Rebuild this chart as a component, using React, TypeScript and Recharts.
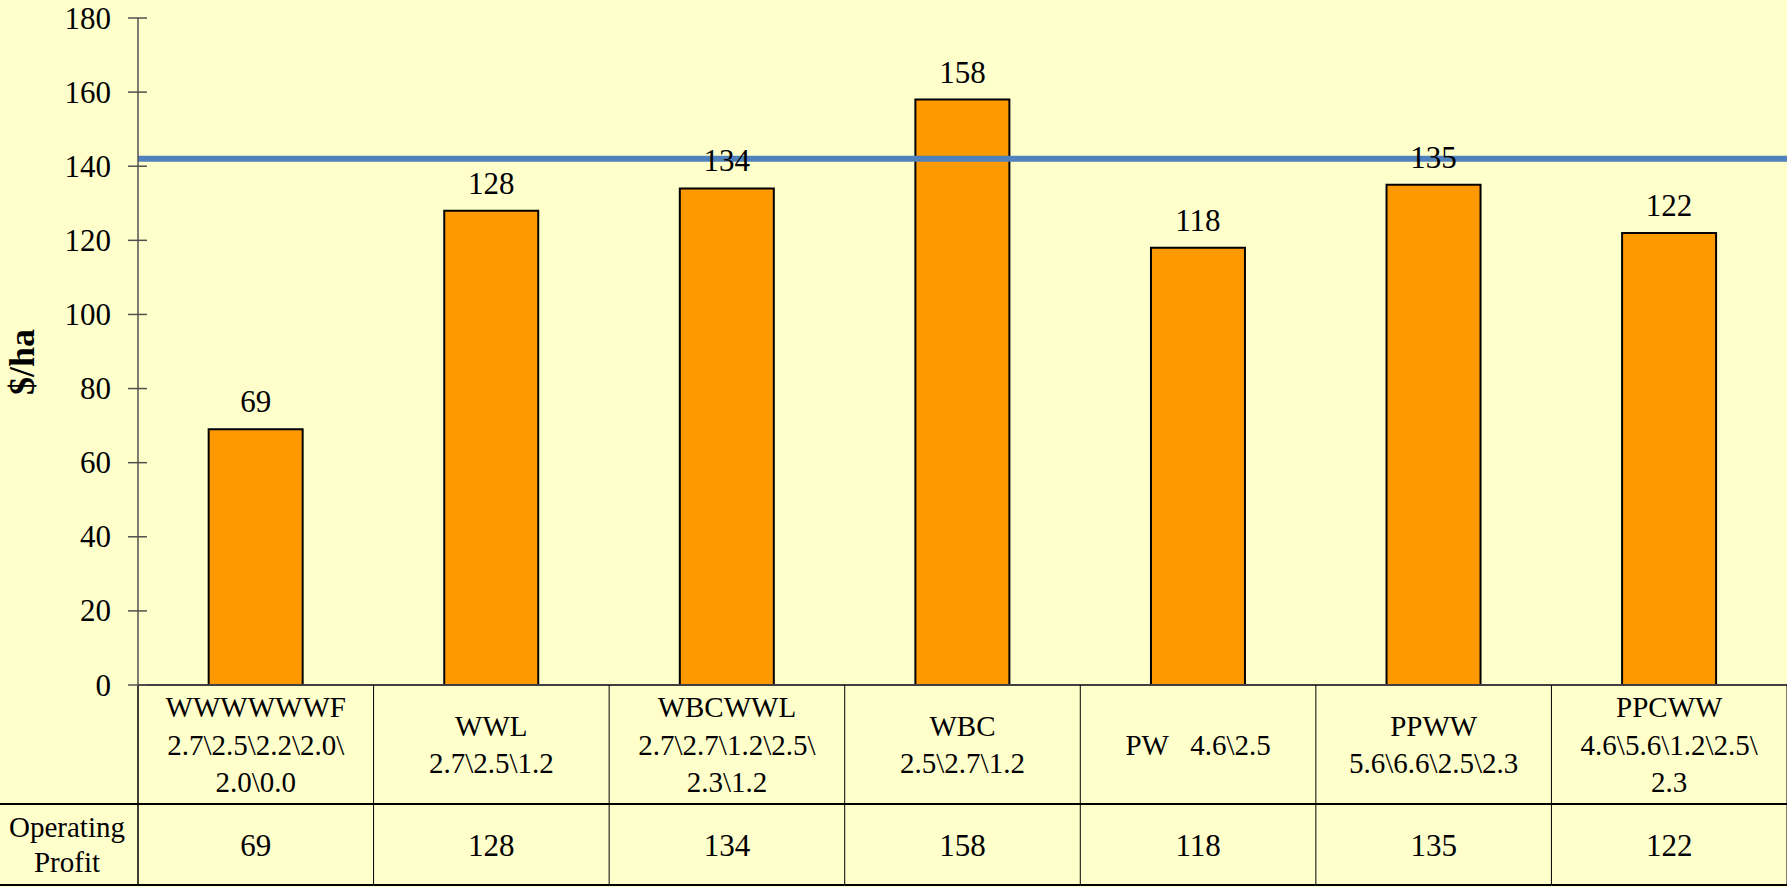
import React from "react";
import {
  ComposedChart,
  Bar,
  XAxis,
  YAxis,
  ReferenceLine,
  LabelList,
} from "recharts";

// rotation codes, with the yields of each crop on the lines below
const rotationLines: string[][] = [
  ["WWWWWWF", "2.7\\2.5\\2.2\\2.0\\", "2.0\\0.0"],
  ["WWL", "2.7\\2.5\\1.2"],
  ["WBCWWL", "2.7\\2.7\\1.2\\2.5\\", "2.3\\1.2"],
  ["WBC", "2.5\\2.7\\1.2"],
  ["PW   4.6\\2.5"],
  ["PPWW", "5.6\\6.6\\2.5\\2.3"],
  ["PPCWW", "4.6\\5.6\\1.2\\2.5\\", "2.3"],
];
const rotations = ["WWWWWWF", "WWL", "WBCWWL", "WBC", "PW", "PPWW", "PPCWW"];
const operatingProfit = [69, 128, 134, 158, 118, 135, 122];
const benchmark = 142;
const yTicks = [0, 20, 40, 60, 80, 100, 120, 140, 160, 180];
const rowLabel = ["Operating", "Profit"];

const data = rotations.map((name, i) => ({
  name,
  profit: operatingProfit[i],
}));

const W = 1787;
const H = 887;
const PLOT_LEFT = 138;
const X_AXIS_H = 202;
const AXIS_Y = H - X_AXIS_H;
const ROW1_BOTTOM = 804;
const TABLE_BOTTOM = 885;
const BAND = (W - PLOT_LEFT) / rotations.length;
const FONT = '"Liberation Serif", "Times New Roman", serif';
const NUM_SIZE = 31;
const CELL_SIZE = 29;

function YTick(props: any) {
  const { y, payload } = props;
  return (
    <g>
      <line x1={PLOT_LEFT - 10} x2={PLOT_LEFT + 9} y1={y} y2={y} stroke="#505050" strokeWidth={1.5} />
      <text x={111} y={y} textAnchor="end" dominantBaseline="central" fontSize={NUM_SIZE} fill="#000" fontFamily={FONT}>
        {payload.value}
      </text>
    </g>
  );
}

function TableTick(props: any) {
  const { x, index } = props;
  const lines = rotationLines[index];
  const left = x - BAND / 2;
  const right = x + BAND / 2;
  const mid1 = (AXIS_Y + ROW1_BOTTOM) / 2;
  const mid2 = (ROW1_BOTTOM + TABLE_BOTTOM) / 2;
  return (
    <g>
      {index === 0 && (
        <g>
          <line x1={left} x2={left} y1={AXIS_Y} y2={TABLE_BOTTOM} stroke="#000" strokeWidth={1.5} />
          <line x1={0} x2={left} y1={ROW1_BOTTOM} y2={ROW1_BOTTOM} stroke="#000" strokeWidth={2} />
          <line x1={0} x2={left} y1={TABLE_BOTTOM} y2={TABLE_BOTTOM} stroke="#000" strokeWidth={2} />
          {rowLabel.map((t, i) => (
            <text key={t} x={left / 2 - 2} y={mid2 + (i - 0.5) * 35} textAnchor="middle" dominantBaseline="central" fontSize={CELL_SIZE} fontFamily={FONT} fill="#000">
              {t}
            </text>
          ))}
        </g>
      )}
      <line x1={right} x2={right} y1={AXIS_Y} y2={TABLE_BOTTOM} stroke="#000" strokeWidth={1} />
      <line x1={left} x2={right} y1={ROW1_BOTTOM} y2={ROW1_BOTTOM} stroke="#000" strokeWidth={2} />
      <line x1={left} x2={right} y1={TABLE_BOTTOM} y2={TABLE_BOTTOM} stroke="#000" strokeWidth={2} />
      {lines.map((t, i) => (
        <text
          key={i}
          x={x}
          y={mid1 + (i - (lines.length - 1) / 2) * 37.5}
          textAnchor="middle"
          dominantBaseline="central"
          fontSize={CELL_SIZE}
          fontFamily={FONT}
          fill="#000"
          style={{ whiteSpace: "pre" }}
        >
          {t}
        </text>
      ))}
      <text x={x} y={mid2 + 1} textAnchor="middle" dominantBaseline="central" fontSize={NUM_SIZE} fontFamily={FONT} fill="#000">
        {operatingProfit[index]}
      </text>
    </g>
  );
}

export default function App() {
  return (
    <div style={{ position: "absolute", left: 0, top: 0, width: W, height: H, background: "#FFFFCC" }}>
      <ComposedChart
        width={W}
        height={H}
        data={data}
        margin={{ top: 18, right: 0, left: 0, bottom: 0 }}
        barCategoryGap="30%"
      >
        <XAxis
          dataKey="name"
          interval={0}
          height={X_AXIS_H}
          tickLine={false}
          tickSize={0}
          axisLine={{ stroke: "#404040", strokeWidth: 2 }}
          tick={<TableTick />}
        />
        <YAxis
          type="number"
          domain={[0, 180]}
          ticks={yTicks}
          width={PLOT_LEFT}
          tickLine={false}
          axisLine={{ stroke: "#505050", strokeWidth: 1.5 }}
          tick={<YTick />}
          interval={0}
        />
        <Bar dataKey="profit" fill="#FF9900" stroke="#000" strokeWidth={2} isAnimationActive={false}>
          <LabelList dataKey="profit" position="top" offset={17} fontSize={NUM_SIZE} fill="#000" fontFamily={FONT} />
        </Bar>
        <ReferenceLine y={benchmark} stroke="#4F81BD" strokeWidth={6} />
        <text
          x={22}
          y={362}
          transform="rotate(-90, 22, 362)"
          textAnchor="middle"
          dominantBaseline="central"
          fontSize={36}
          fontWeight="bold"
          fontFamily={FONT}
          fill="#000"
        >
          $/ha
        </text>
      </ComposedChart>
    </div>
  );
}
